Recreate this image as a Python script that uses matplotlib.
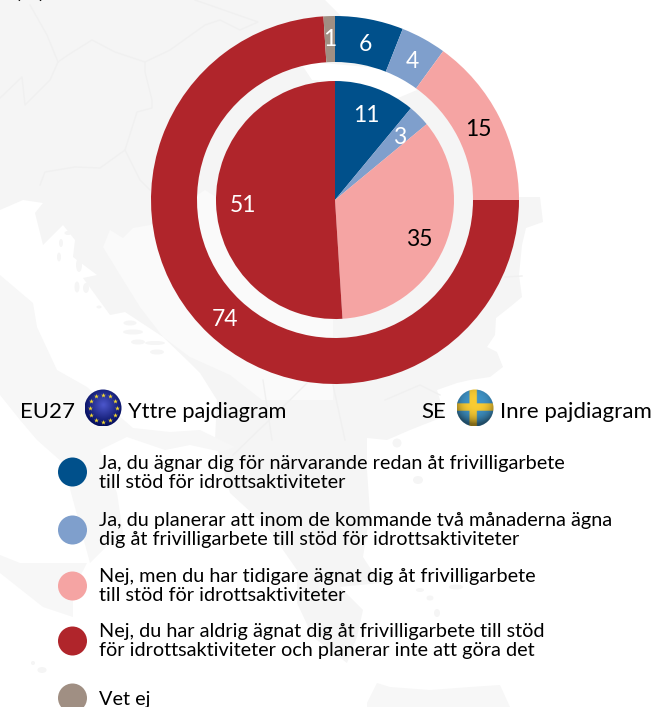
"""Two nested donuts (EU27 outer, SE inner) on a faint Balkan map backdrop."""
import numpy as np
import matplotlib
matplotlib.use("Agg")
import matplotlib.pyplot as plt
from matplotlib.patches import Circle, Polygon, Ellipse

plt.rcParams["font.family"] = ["Lato", "DejaVu Sans"]

W, H = 666, 707

eu27_values = [6, 4, 15, 74, 1]
se_values = [11, 3, 35, 51]
colors = ["#00508B", "#7F9FCC", "#F5A4A3", "#B0252B", "#A08F83"]
dark_label = {15, 35}

legend_labels = [
    "Ja, du ägnar dig för närvarande redan åt frivilligarbete\ntill stöd för idrottsaktiviteter",
    "Ja, du planerar att inom de kommande två månaderna ägna\ndig åt frivilligarbete till stöd för idrottsaktiviteter",
    "Nej, men du har tidigare ägnat dig åt frivilligarbete\ntill stöd för idrottsaktiviteter",
    "Nej, du har aldrig ägnat dig åt frivilligarbete till stöd\nför idrottsaktiviteter och planerar inte att göra det",
    "Vet ej",
]
legend_y = [472, 530, 586, 641, 698]

# backdrop outlines, in picture pixels
LAND = "#F5F5F5"
SOUTH = "#F7F7F7"
LIGHT = "#FAFAFA"
LINE = "#F0F0F0"
mainland = [(0, 0), (325, 0), (345, 20), (400, 60), (519, 197), (540, 197), (543, 222), (526, 228),
            (522, 245), (519, 275), (522, 297), (510, 307), (496, 318), (495, 335), (487, 347),
            (497, 352), (503, 367), (490, 377), (470, 380), (457, 383), (437, 390), (440, 400),
            (443, 417), (410, 430), (387, 440), (367, 438), (367, 470), (370, 513), (363, 557),
            (380, 583), (340, 587), (363, 610), (357, 637), (347, 663), (313, 637), (297, 603),
            (297, 570), (267, 527), (230, 493), (222, 465), (215, 440), (217, 400), (200, 373),
            (190, 363), (163, 337), (125, 312), (110, 315), (83, 278), (97, 275), (73, 257),
            (75, 240), (63, 225), (43, 245), (35, 213), (43, 203), (23, 200), (0, 210)]
italy = [(0, 275), (33, 303), (37, 327), (57, 370), (87, 387), (110, 408), (133, 428), (170, 432),
         (200, 430), (235, 447), (222, 452), (190, 445), (165, 450), (127, 437), (100, 450),
         (117, 493), (123, 533), (110, 543), (90, 563), (63, 463), (37, 440), (20, 420), (0, 395)]
sicily = [(0, 555), (20, 563), (87, 563), (73, 590), (73, 617), (43, 607), (0, 573)]
crete = [(367, 703), (377, 683), (390, 687), (430, 690), (470, 687), (500, 685), (510, 707), (367, 707)]
inland_light = [(110, 230), (103, 247), (117, 270), (140, 307), (163, 337), (190, 357), (230, 375),
                (262, 400), (333, 400), (333, 320), (300, 250), (205, 190), (150, 225), (133, 228),
                (123, 238)]
gap_patch = [(302, 65), (312, 62), (400, 70), (417, 90), (398, 98), (352, 82), (312, 80)]
borders = [
    [(30, 5), (47, 35), (58, 62), (68, 55), (92, 40), (115, 52), (145, 62)],
    [(0, 98), (22, 77), (25, 105), (50, 80), (58, 62)],
    [(145, 62), (145, 72), (152, 100), (152, 108), (137, 112), (125, 150), (100, 168), (75, 167),
     (45, 172), (40, 185)],
    [(145, 62), (170, 50), (205, 25), (220, 20), (240, 30), (258, 22), (195, 0)],
    [(125, 150), (140, 180), (150, 190)],
    [(233, 455), (290, 400), (320, 370)],
    [(263, 380), (272, 440)],
    [(333, 385), (345, 440)],
    [(385, 400), (420, 385), (440, 395)],
    [(505, 277), (522, 276)],
]
islets = [(68, 233, 7, 4), (61, 243, 4, 8), (59, 257, 4, 9), (79, 265, 6, 14), (77, 287, 5, 11),
          (86, 288, 6, 10), (99, 307, 5, 3), (130, 323, 13, 5), (133, 332, 20, 5), (138, 342, 14, 5),
          (155, 343, 20, 4), (157, 352, 14, 5), (33, 663, 4, 4), (42, 670, 9, 6), (397, 443, 9, 9),
          (418, 480, 10, 8), (430, 598, 7, 5), (420, 590, 8, 4), (456, 587, 14, 5), (437, 613, 6, 8)]

fig = plt.figure(figsize=(W / 100, H / 100), dpi=100)
ax = fig.add_axes([0, 0, 1, 1])

for pts, col in [(mainland, LAND), (italy, SOUTH), (sicily, SOUTH), (crete, SOUTH),
                 (inland_light, LIGHT), (gap_patch, "white")]:
    ax.add_patch(Polygon(pts, closed=True, fc=col, ec="none", joinstyle="round", zorder=1))
for line in borders:
    ax.plot(*zip(*line), color=LINE, lw=1, solid_joinstyle="round", zorder=1.5)
for x, y, w, h in islets:
    ax.add_patch(Ellipse((x, y), w, h, fc=LAND, ec="none", zorder=1))

# y axis runs downward, so startangle -90 is 12 o'clock and counterclock reads clockwise on screen
pie_center = (335, 200)
for vals, cols, radius, width, label_r in [
    (eu27_values, colors, 184, 46, 161 / 184),
    (se_values, colors[:4], 119, 119, 92 / 119),
]:
    wedges, _, autotexts = ax.pie(
        vals, colors=cols, center=pie_center, radius=radius, startangle=-90, counterclock=True,
        wedgeprops={"width": width, "linewidth": 0, "zorder": 2},
        autopct=lambda p: f"{p:.0f}", pctdistance=label_r,
    )
    for v, t in zip(vals, autotexts):
        t.set_color("black" if v in dark_label else "white")
        t.set_fontsize(16.5)
        t.set_zorder(3)
        t.set_text(str(v))
        if v != 1:
            t.set_y(t.get_position()[1] + 2.5)


def shaded_disc(center, r, rgb_fn):
    n = 80
    xs, ys = np.meshgrid(np.linspace(-1, 1, n), np.linspace(-1, 1, n))
    img = rgb_fn(xs, ys)
    im = ax.imshow(img, extent=(center[0] - r, center[0] + r, center[1] + r, center[1] - r),
                   zorder=4, interpolation="bilinear")
    im.set_clip_path(Circle(center, r, transform=ax.transData))


def eu_flag(xs, ys):
    d = np.clip(np.hypot(xs, ys + 0.15), 0, 1.2)[..., None]
    return np.array([0.30, 0.34, 0.80]) * (1 - d) + np.array([0.05, 0.09, 0.42]) * d


def se_flag(xs, ys):
    img = np.ones(xs.shape + (3,)) * np.array([0.25, 0.58, 0.78])
    img[(np.abs(ys + 0.02) < 0.20) | (np.abs(xs + 0.12) < 0.20)] = (0.98, 0.80, 0.20)
    shade = 1 - 0.28 * np.clip(np.hypot(xs, ys + 0.3), 0, 1.2) ** 3
    return img * shade[..., None]


eu_center, se_center = (103, 408), (475, 408)
shaded_disc(eu_center, 18.5, eu_flag)
shaded_disc(se_center, 18.5, se_flag)
star_angles = np.deg2rad(np.arange(0, 360, 30))
ax.scatter(eu_center[0] + 13.5 * np.cos(star_angles), eu_center[1] + 13.5 * np.sin(star_angles),
           marker="*", s=13, color="#F5DA2E", linewidths=0, zorder=5)

ax.text(20, 412, "EU27", fontsize=16, va="center", color="black", zorder=6)
ax.text(128, 412, "Yttre pajdiagram", fontsize=15.7, va="center", color="black", zorder=6)
ax.text(421, 412, "SE", fontsize=16, va="center", color="black", zorder=6)
ax.text(500, 412, "Inre pajdiagram", fontsize=16, va="center", color="black", zorder=6)
ax.text(30, -8, "(%)", fontsize=16, ha="center", va="center", color="black", zorder=6)

for y, col in zip(legend_y, colors):
    ax.add_patch(Circle((72.5, y), 14.5, fc=col, ec="none", zorder=4))
for y, lab in zip([473, 530, 586, 641, 699], legend_labels):
    ax.text(99, y, lab, fontsize=14.3, va="center", ha="left",
            linespacing=1.2, color="black", zorder=6)

ax.set_xlim(0, W)
ax.set_ylim(H, 0)
ax.set_aspect("equal")
ax.axis("off")
fig.savefig("out.png", dpi=100, facecolor="white")
